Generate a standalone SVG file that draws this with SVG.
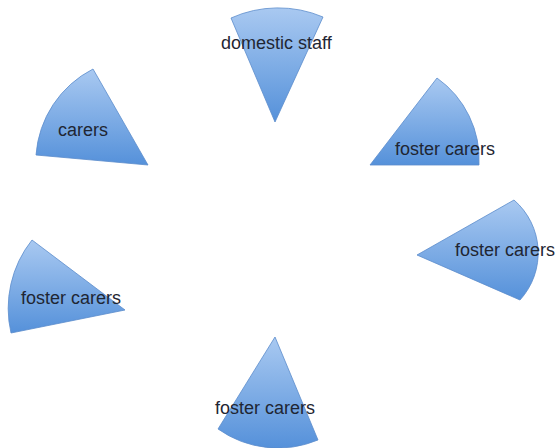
<svg xmlns="http://www.w3.org/2000/svg" width="558" height="448" viewBox="0 0 558 448">
  <defs>
    <linearGradient id="wedgeFill" x1="0" y1="0" x2="0" y2="1">
      <stop offset="0" stop-color="#a9c9f1"/>
      <stop offset="1" stop-color="#5591da"/>
    </linearGradient>
    <style>
      .wedge { fill: url(#wedgeFill); stroke: #5a8ccc; stroke-width: 0.8; stroke-linejoin: round; }
      .label { font-family: "Liberation Sans", Arial, sans-serif; font-size: 18px; fill: #1f2633; }
    </style>
  </defs>
  <rect width="558" height="448" fill="#ffffff"/>

  <g id="connectors"/>

  <g id="domestic-staff">
    <path class="wedge" d="M275,122 L231,18 A115,115 0 0 1 323,17 Z"/>
    <text class="label" x="221" y="49">domestic staff</text>
  </g>

  <g id="carers">
    <path class="wedge" d="M148,165 L93,69 A105,105 0 0 0 36,155 Z"/>
    <text class="label" x="58" y="136">carers</text>
  </g>

  <g id="foster-carers-top-right">
    <path class="wedge" d="M370,165 L437,78 A100,100 0 0 1 479,165 Z"/>
    <text class="label" x="395" y="155">foster carers</text>
  </g>

  <g id="foster-carers-right">
    <path class="wedge" d="M417,255 L514,200 A70,70 0 0 1 520,300 Z"/>
    <text class="label" x="455" y="256">foster carers</text>
  </g>

  <g id="foster-carers-left">
    <path class="wedge" d="M125,310 L32,240 A110,110 0 0 0 11,333 Z"/>
    <text class="label" x="21" y="304">foster carers</text>
  </g>

  <g id="foster-carers-bottom">
    <path class="wedge" d="M275,337 L218,429 A104,104 0 0 0 318,440 Z"/>
    <text class="label" x="215" y="414">foster carers</text>
  </g>
</svg>
